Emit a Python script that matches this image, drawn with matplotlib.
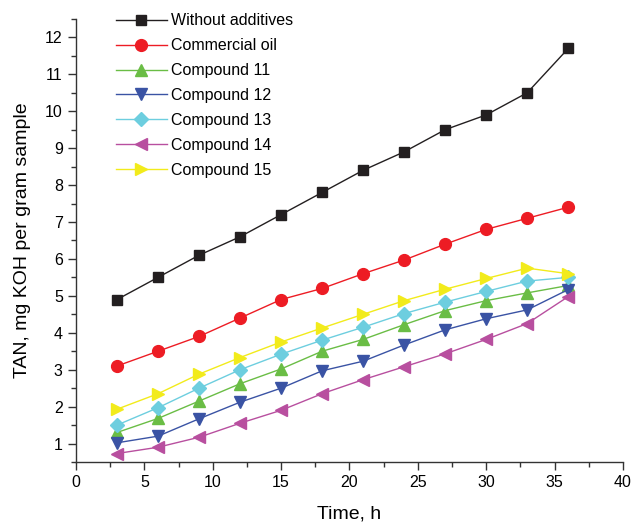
import numpy as np
import matplotlib
matplotlib.use("Agg")
import matplotlib.pyplot as plt
from matplotlib.ticker import MultipleLocator

plt.rcParams['font.family'] = ['Liberation Sans', 'DejaVu Sans']

time_h = [3, 6, 9, 12, 15, 18, 21, 24, 27, 30, 33, 36]

without_additives = [4.9, 5.5, 6.1, 6.6, 7.2, 7.8, 8.4, 8.9, 9.5, 9.9, 10.5, 11.7]
commercial_oil = [3.1, 3.5, 3.9, 4.4, 4.9, 5.2, 5.6, 5.97, 6.4, 6.8, 7.1, 7.4]
compound_11 = [1.3, 1.68, 2.15, 2.62, 3.02, 3.5, 3.82, 4.22, 4.6, 4.87, 5.08, 5.28]
compound_12 = [1.02, 1.2, 1.67, 2.12, 2.5, 2.97, 3.23, 3.67, 4.08, 4.38, 4.62, 5.17]
compound_13 = [1.5, 1.97, 2.5, 3.0, 3.42, 3.8, 4.15, 4.52, 4.83, 5.12, 5.4, 5.5]
compound_14 = [0.73, 0.9, 1.17, 1.55, 1.9, 2.35, 2.73, 3.08, 3.43, 3.82, 4.25, 4.98]
compound_15 = [1.93, 2.35, 2.88, 3.33, 3.75, 4.13, 4.5, 4.87, 5.18, 5.47, 5.75, 5.6]

series = [
    ("Without additives", without_additives, "#231f20", "s", 7),
    ("Commercial oil", commercial_oil, "#ed1c24", "o", 8.5),
    ("Compound 11", compound_11, "#6abd45", "^", 9),
    ("Compound 12", compound_12, "#3a53a4", "v", 9),
    ("Compound 13", compound_13, "#6dcedf", "D", 7.5),
    ("Compound 14", compound_14, "#b84f9f", "<", 9),
    ("Compound 15", compound_15, "#f2eb1b", ">", 9),
]

fig = plt.figure(figsize=(6.36, 5.25), dpi=100)
ax = fig.add_axes([0.1195, 0.12, 0.86, 0.844])

for label, vals, color, marker, ms in series:
    ax.plot(time_h, vals, color=color, marker=marker, markersize=ms,
            markeredgecolor=color, linewidth=1.0, label=label)

ax.set_xlim(0, 40)
ax.set_ylim(0.5, 12.5)
ax.xaxis.set_major_locator(MultipleLocator(5))
ax.xaxis.set_minor_locator(MultipleLocator(2.5))
ax.set_yticks(np.arange(1, 13, 1))
ax.yaxis.set_minor_locator(MultipleLocator(0.5))

for s in ("top", "right"):
    ax.spines[s].set_visible(False)
for s in ("left", "bottom"):
    ax.spines[s].set_color("#333333")
    ax.spines[s].set_linewidth(1.0)

ax.tick_params(which="major", direction="out", length=6, width=1,
               color="#333333", labelsize=11.5)
ax.tick_params(which="minor", direction="out", length=3.5, width=1,
               color="#333333")

ax.set_xlabel("Time, h", fontsize=14, labelpad=11)
ax.set_ylabel("TAN, mg KOH per gram sample", fontsize=14, labelpad=10)

ax.legend(loc="upper left", bbox_to_anchor=(0.046, 1.045), frameon=False,
          fontsize=11.5, handlelength=3.2, labelspacing=0.62,
          handletextpad=0.3)

fig.savefig("out.png", dpi=100)
